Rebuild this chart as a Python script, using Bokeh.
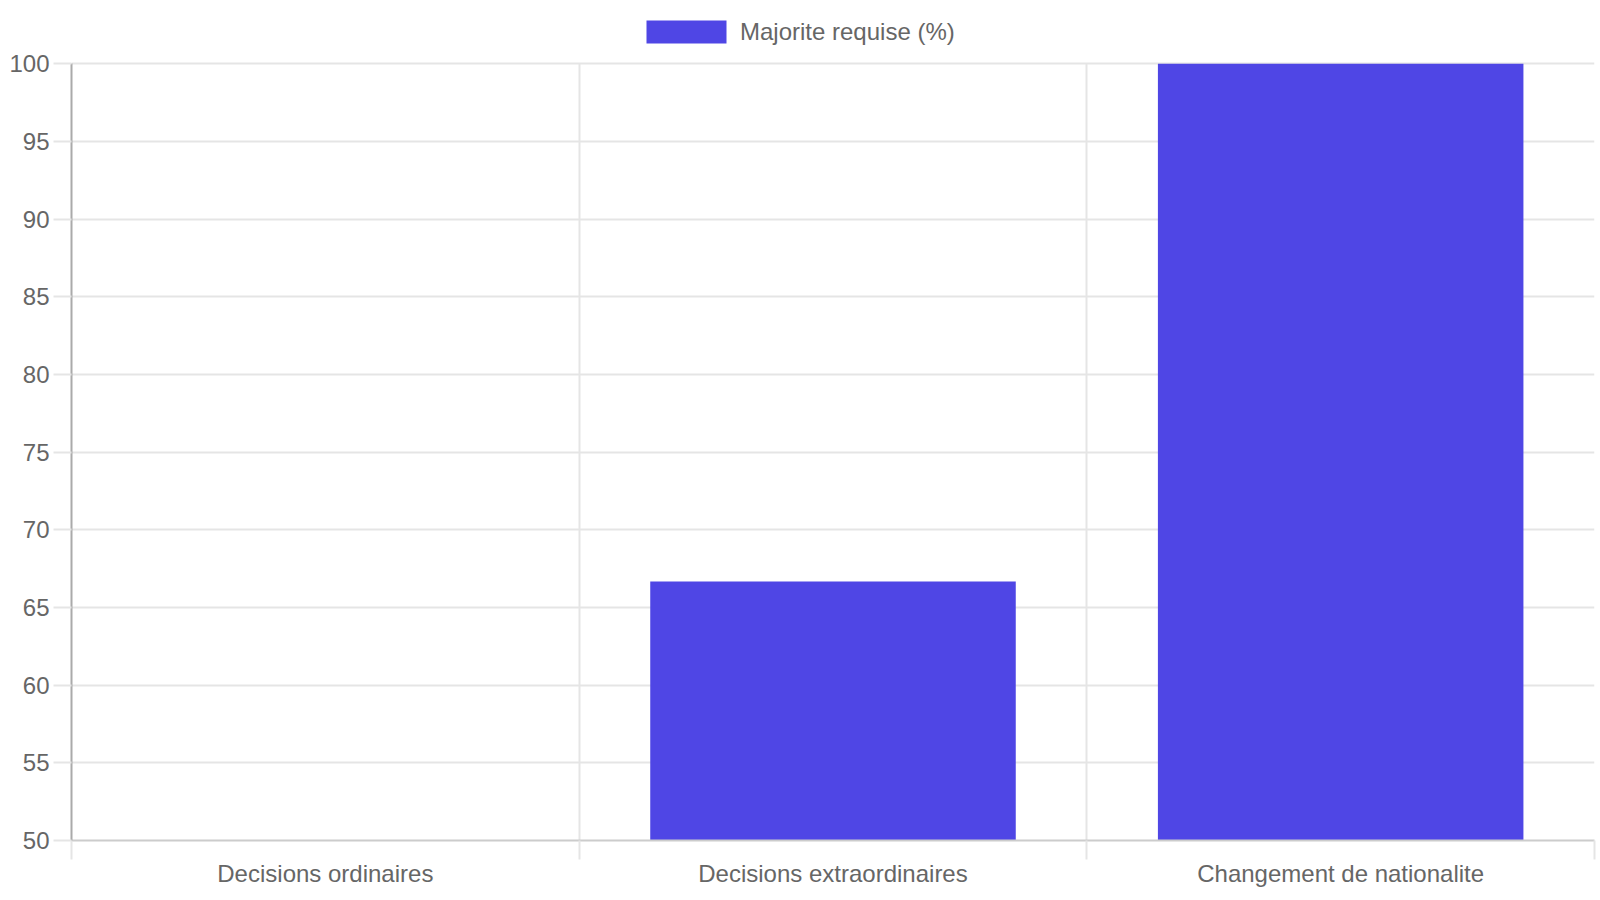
from bokeh.plotting import figure
from bokeh.models import Range1d, FixedTicker, Legend, LegendItem, ColumnDataSource, Grid
from bokeh.embed import file_html
from bokeh.resources import INLINE

categories = ["Decisions ordinaires", "Decisions extraordinaires", "Changement de nationalite"]
majorite = [50, 66.67, 100]
series_name = "Majorite requise (%)"
y_ticks = [50, 55, 60, 65, 70, 75, 80, 85, 90, 95, 100]

FONT = "Liberation Sans"
TXT = "#666666"
GRID = "#e5e5e5"
BAR = "#4F46E5"

ymin, ymax = y_ticks[0], y_ticks[-1]
# extra headroom above 100 holds the legend (63 px over a 777 px value span)
head = (ymax - ymin) * 63.3 / 776.7

xs = [i + 0.5 for i in range(len(categories))]
bounds_x = list(range(len(categories) + 1))
src = ColumnDataSource(dict(x=xs, top=majorite, cat=categories))

p = figure(width=1600, height=900, output_backend="svg", toolbar_location=None,
           x_range=Range1d(0, len(categories)), y_range=Range1d(ymin, ymax + head),
           min_border_left=71, min_border_right=6, min_border_top=0, min_border_bottom=60)
p.outline_line_color = None
p.background_fill_color = "white"
p.border_fill_color = "white"

r = p.vbar(x="x", top="top", bottom=ymin, width=0.72, source=src,
           fill_color=BAR, line_color=None)

# x axis
xa = p.xaxis[0]
xa.ticker = FixedTicker(ticks=xs, minor_ticks=bounds_x)
xa.major_label_overrides = {x: c for x, c in zip(xs, categories)}
xa.major_tick_line_color = None
xa.major_tick_out = 19
xa.major_tick_in = 0
xa.minor_tick_out = 19
xa.minor_tick_in = 0
xa.minor_tick_line_color = GRID
xa.minor_tick_line_width = 2
xa.axis_line_color = "#cccccc"
xa.axis_line_width = 2
xa.major_label_standoff = 0
xa.major_label_text_font = FONT
xa.major_label_text_font_size = "24px"
xa.major_label_text_color = TXT

# y axis
ya = p.yaxis[0]
ya.ticker = FixedTicker(ticks=y_ticks)
ya.bounds = (ymin, ymax)
ya.major_tick_out = 18
ya.major_tick_in = 0
ya.major_tick_line_color = GRID
ya.major_tick_line_width = 2
ya.minor_tick_line_color = None
ya.axis_line_color = "#aaaaaa"
ya.axis_line_width = 2
ya.major_label_standoff = 4
ya.major_label_text_font = FONT
ya.major_label_text_font_size = "24px"
ya.major_label_text_color = TXT

p.ygrid.ticker = FixedTicker(ticks=y_ticks)
p.ygrid.grid_line_color = GRID
p.ygrid.grid_line_width = 2

if "cross_bounds" in Grid.properties():
    p.xgrid.ticker = FixedTicker(ticks=bounds_x)
    p.xgrid.grid_line_color = GRID
    p.xgrid.grid_line_width = 2
    p.xgrid.cross_bounds = (ymin, ymax)
else:
    p.xgrid.visible = False
    p.segment(x0=bounds_x, x1=bounds_x, y0=[ymin] * len(bounds_x), y1=[ymax] * len(bounds_x),
              line_color=GRID, line_width=2, level="underlay")

legend = Legend(items=[LegendItem(label=series_name, renderers=[r])],
                orientation="horizontal", location=(565, 794),
                glyph_width=100, glyph_height=29, label_height=29,
                label_standoff=4, padding=0, margin=0, spacing=0,
                border_line_color=None, background_fill_alpha=0,
                label_text_font=FONT, label_text_font_size="24px",
                label_text_color=TXT)
p.add_layout(legend, "center")

open("out.html", "w").write(file_html(p, INLINE))
